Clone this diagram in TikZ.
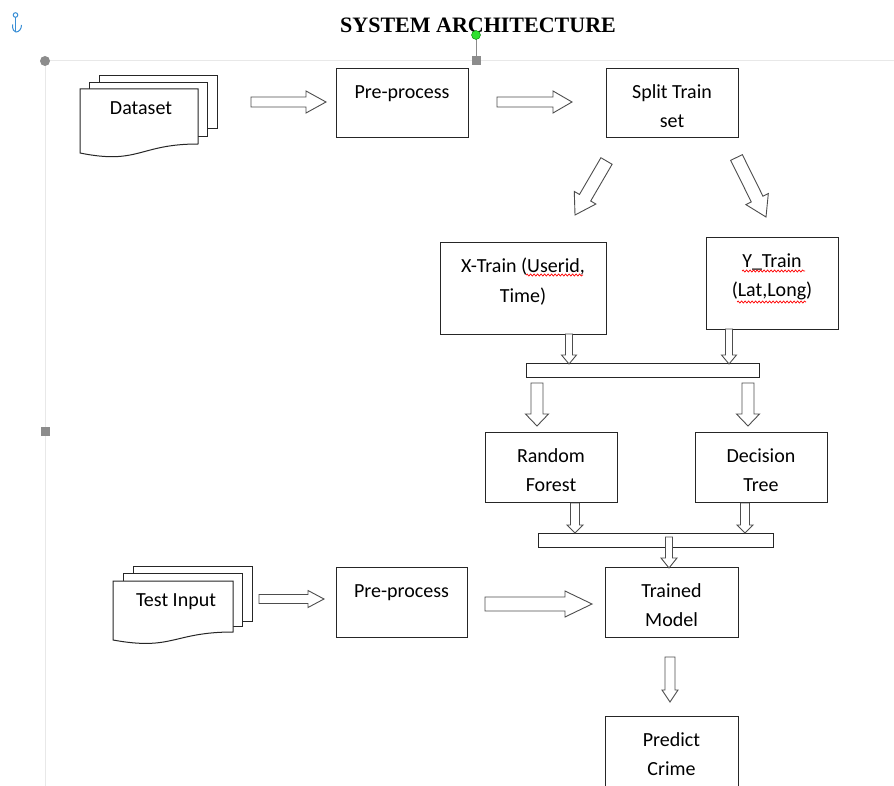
\documentclass[tikz,border=0pt]{standalone}
\usepackage{fontspec}
\setmainfont{Carlito}
\newfontfamily\titlefont{Liberation Serif}
\usetikzlibrary{calc,positioning,decorations.pathmorphing}
\definecolor{boxline}{HTML}{262626}
\definecolor{arrowline}{HTML}{4D4D4D}
\definecolor{guide}{HTML}{E8E8E8}
\definecolor{handle}{HTML}{8C8C8C}
\definecolor{anchorblue}{HTML}{3A8FD6}
\definecolor{handlegreen}{HTML}{2FE02F}
% hollow block arrow: body half width, head half width, head length
\tikzset{fat/.style n args={3}{draw=arrowline, fill=white, line width=0.9pt, line join=miter,
    to path={let \p1=(\tikztostart), \p2=(\tikztotarget),
      \n1={veclen(\x2-\x1,\y2-\y1)}, \n2={(\x2-\x1)/\n1}, \n3={(\y2-\y1)/\n1} in
      ({\x1-#1*\n3},{\y1+#1*\n2}) -- ({\x2-#3*\n2-#1*\n3},{\y2-#3*\n3+#1*\n2})
      -- ({\x2-#3*\n2-#2*\n3},{\y2-#3*\n3+#2*\n2}) -- (\p2)
      -- ({\x2-#3*\n2+#2*\n3},{\y2-#3*\n3-#2*\n2}) -- ({\x2-#3*\n2+#1*\n3},{\y2-#3*\n3-#1*\n2})
      -- ({\x1+#1*\n3},{\y1-#1*\n2}) -- cycle}}}
\tikzset{squig/.style = {draw=red, line width=0.7pt, decorate,
    decoration={snake, amplitude=1pt, segment length=3.5pt}}}

\begin{document}
\begin{tikzpicture}[x=1pt, y=1pt,
    box/.style={draw=boxline, line width=1pt, fill=white, anchor=north west,
        inner sep=0pt, outer sep=0pt},
    boxtxt/.style={font={\fontsize{20}{29}\selectfont}, align=center, inner sep=0pt,
        outer sep=0pt},
    doctxt/.style={font={\fontsize{20}{29}\selectfont}, anchor=base, inner sep=0pt},
    doc/.style={draw=boxline, line width=1pt, fill=white},
    bar/.style={draw=boxline, line width=1pt, fill=white, inner sep=0pt},
    ]
    \fill[white] (0,0) rectangle (894,-786);
    \useasboundingbox (0,0) rectangle (894,-786);

    % Editor guides and handles
    \draw[guide, line width=0.8pt] (45,-60.5) -- (894,-60.5);
    \draw[guide, line width=0.8pt] (45.5,-61) -- (45.5,-786);
    \fill[handle] (45,-61) circle (5);
    \fill[handle] (40.5,-426.5) rectangle (49.5,-435.5);
    % Anchor icon
    \draw[anchorblue, line width=1pt] (15.5,-15) circle (2.3);
    \draw[anchorblue, line width=1pt] (15.5,-17.3) -- (15.5,-31.5);
    \draw[anchorblue, line width=1pt] (12.5,-24.5) .. controls (12.5,-30) and (14,-32) .. (16,-32)
        .. controls (19,-32) and (21.5,-29) .. (21.5,-25);

    % Title
    \node[font={\fontsize{22}{26}\titlefont\bfseries}, anchor=base, inner sep=0pt] (title)
        at (478,-33) {SYSTEM ARCHITECTURE};
    \draw[handle, line width=0.8pt] (476,-35) -- (476,-61);
    \fill[handle] (471.5,-56.5) rectangle (480.5,-65.5);
    \filldraw[fill=handlegreen, draw=green!50!black, line width=0.4pt] (476,-35) circle (4.5);

    % Dataset (multi-document)
    \filldraw[doc] (99,-76) rectangle (217,-129);
    \filldraw[doc] (89,-83) rectangle (207,-137);
    \filldraw[doc] (80,-89) -- (198,-89) -- (198,-144)
        .. controls (139,-144) and (139,-165) .. (80,-153) -- cycle;
    \node[doctxt] (dataset) at (141,-115) {Dataset};

    % Test input (multi-document)
    \filldraw[doc] (133,-566) rectangle (252,-621);
    \filldraw[doc] (123,-573) rectangle (242,-626);
    \filldraw[doc] (113,-581) -- (233,-581) -- (233,-632)
        .. controls (173,-632) and (173,-651) .. (113,-640) -- cycle;
    \node[doctxt] (testin) at (176,-606) {Test Input};

    % Boxes
    \node[box, minimum width=132pt, minimum height=69pt] (pre1) at (336,-69) {};
    \node[box, minimum width=132pt, minimum height=69pt] (split) at (606,-69) {};
    \node[box, minimum width=166pt, minimum height=91pt] (xtrain) at (440,-243) {};
    \node[box, minimum width=132pt, minimum height=91pt] (ytrain) at (706,-238) {};
    \node[box, minimum width=132pt, minimum height=70pt] (rf) at (485,-432) {};
    \node[box, minimum width=132pt, minimum height=70pt] (dt) at (695,-432) {};
    \node[box, minimum width=131pt, minimum height=70pt] (pre2) at (336,-567) {};
    \node[box, minimum width=133pt, minimum height=70pt] (trained) at (605,-567) {};
    \node[box, minimum width=133pt, minimum height=76pt] (predict) at (605,-716) {};

    \node[boxtxt, below=9.7pt of pre1.north] (pre1-t) {\strut Pre-process};
    \node[boxtxt, below=9.7pt of split.north] (split-t) {\strut Split Train\\set};
    \node[boxtxt, below=9.7pt of xtrain.north] (xtrain-t) {\strut X-Train (Userid,\\Time)};
    \node[boxtxt, below=9.7pt of ytrain.north] (ytrain-t) {\strut Y\_Train\\(Lat,Long)};
    \node[boxtxt, below=9.7pt of rf.north] (rf-t) {\strut Random\\Forest};
    \node[boxtxt, below=9.7pt of dt.north] (dt-t) {\strut Decision\\Tree};
    \node[boxtxt, below=9.7pt of pre2.north] (pre2-t) {\strut Pre-process};
    \node[boxtxt, below=9.7pt of trained.north] (trained-t) {\strut Trained\\Model};
    \node[boxtxt, below=9.7pt of predict.north] (predict-t) {\strut Predict\\Crime};

    % Spelling marks
    \draw[squig] (526,-275) -- (583,-275);
    \draw[squig] (742,-271) -- (805,-271);
    \draw[squig] (737,-302) -- (806,-302);

    % Merge bars
    \node[bar, minimum width=233pt, minimum height=14pt] (bar1) at (642.5,-370) {};
    \node[bar, minimum width=235pt, minimum height=14pt] (bar2) at (655.5,-540) {};

    % Arrow end points
    \coordinate (a1s) at (251,-102);  \coordinate (a1e) at (326,-102);
    \coordinate (a2s) at (497,-102);  \coordinate (a2e) at (572,-102);
    \coordinate (d1s) at (606.5,-161); \coordinate (d1e) at (575,-215);
    \coordinate (d2s) at (736.5,-157.5); \coordinate (d2e) at (766,-217);
    \coordinate (s1s) at (569,-334);  \coordinate (s1e) at (569,-364);
    \coordinate (s2s) at (729,-329);  \coordinate (s2e) at (729,-364);
    \coordinate (m1s) at (537,-383);  \coordinate (m1e) at (537,-426);
    \coordinate (m2s) at (748,-383);  \coordinate (m2e) at (748,-426);
    \coordinate (s3s) at (575,-503);  \coordinate (s3e) at (575,-533);
    \coordinate (s4s) at (745,-503);  \coordinate (s4e) at (745,-533);
    \coordinate (s5s) at (669,-537);  \coordinate (s5e) at (669,-568);
    \coordinate (a3s) at (259,-599);  \coordinate (a3e) at (324,-599);
    \coordinate (a4s) at (485,-604);  \coordinate (a4e) at (592,-604);
    \coordinate (s6s) at (670,-657);  \coordinate (s6e) at (670,-702);

    % Block arrows
    \draw[fat={5}{11}{20}] (a1s) to (a1e);
    \draw[fat={5}{11}{19}] (a2s) to (a2e);
    \draw[fat={6.5}{12.5}{20}] (d1s) to (d1e);
    \draw[fat={6.5}{12.5}{20}] (d2s) to (d2e);
    \draw[fat={3.5}{7.5}{9}] (s1s) to (s1e);
    \draw[fat={3.5}{7.5}{9}] (s2s) to (s2e);
    \draw[fat={6}{11.5}{12}] (m1s) to (m1e);
    \draw[fat={6}{11.5}{12}] (m2s) to (m2e);
    \draw[fat={4.5}{8}{8}] (s3s) to (s3e);
    \draw[fat={4.5}{8}{8}] (s4s) to (s4e);
    \draw[fat={3.5}{8}{10}] (s5s) to (s5e);
    \draw[fat={4.5}{8.5}{16}] (a3s) to (a3e);
    \draw[fat={7}{13}{27}] (a4s) to (a4e);
    \draw[fat={5}{8}{12}] (s6s) to (s6e);
\end{tikzpicture}
\end{document}
